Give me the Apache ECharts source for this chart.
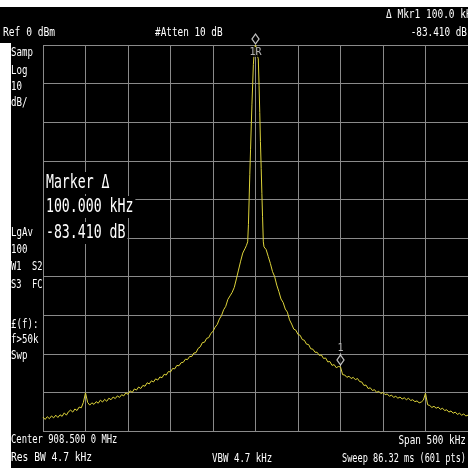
<!DOCTYPE html>
<html>
<head>
<meta charset="utf-8">
<script src="https://cdn.jsdelivr.net/npm/echarts@6/dist/echarts.min.js"></script>
<style>
  html, body { margin: 0; padding: 0; background: #fff; }
  .panel { position: absolute; background: #000; }
  #chart { position: absolute; left: 0; top: 0; width: 468px; height: 468px; }
</style>
</head>
<body>
<div class="panel" style="left:0;top:7px;width:468px;height:36px"></div>
<div class="panel" style="left:11px;top:42px;width:457px;height:426px"></div>
<div id="chart"></div>
<script>
// sweep: center 908.5 MHz, span 500 kHz -> offsets in kHz, levels in dBm
const sweepStartKHz = -250
const sweepStepKHz = 2.5

// lower skirt, -250 .. -12.5 kHz
const lowerSkirtDbm = [
  -96.4, -97.0, -96.3, -96.8, -96.1, -96.6, -95.9, -96.5, -95.8, -96.2,
  -95.3, -95.9, -95.0, -94.6, -95.1, -94.3, -94.7, -93.8, -94.0, -92.6,
  -90.1, -92.6, -93.3, -92.7, -93.1, -92.4, -92.8, -92.0, -92.5, -91.8,
  -92.3, -91.5, -91.9, -91.2, -91.6, -90.9, -91.3, -90.6, -90.9, -90.1,
  -90.5, -89.6, -90.0, -89.1, -89.4, -88.6, -89.0, -88.2, -88.4, -87.5,
  -87.8, -87.0, -87.3, -86.5, -86.8, -86.0, -86.2, -85.3, -85.5, -84.6,
  -84.7, -83.8, -83.9, -83.0, -83.1, -82.3, -82.2, -81.4, -81.5, -80.7,
  -80.7, -79.8, -79.7, -78.6, -78.2, -77.1, -77.0, -76.0, -75.8, -74.7,
  -74.2, -73.1, -72.4, -71.0, -70.1, -68.6, -67.7, -65.9, -65.0, -64.1,
  -62.8, -60.6, -58.3, -56.0, -53.9, -52.8
]

// carrier, read point by point
const peakOffsetKHz = [-10.8, -9.2, -8.3, -7.5, -6.7, -5.8, -5.0, -4.2, -3.3, -2.5, -1.7, -0.8, 0,
  0.8, 1.7, 2.5, 3.3, 4.2, 5.0, 5.8, 6.7, 7.5, 8.3, 9.2, 10.0]
const peakDbm = [-52.0, -51.0, -46.5, -40.0, -33.5, -27.0, -21.0, -15.5, -10.0, -5.0, -2.4, -0.8, 0.0,
  -0.6, -1.8, -3.0, -3.6, -10.5, -17.5, -25.0, -32.0, -38.5, -44.5, -51.0, -52.3]

// upper skirt, 12.5 .. 250 kHz
const upperSkirtStartKHz = 12.5
const upperSkirtDbm = [
  -53.0, -54.8, -56.6, -58.7, -60.0, -62.2, -63.9, -65.8, -66.7, -68.4,
  -69.2, -71.2, -72.3, -73.6, -73.9, -75.0, -75.2, -76.3, -76.5, -77.5,
  -77.6, -78.7, -78.8, -79.6, -79.6, -80.4, -80.3, -81.2, -81.1, -82.1,
  -82.0, -83.0, -82.8, -83.6, -83.3, -83.4, -85.4, -85.5, -86.1, -85.8,
  -86.4, -86.1, -86.7, -86.4, -87.2, -87.3, -88.2, -88.1, -89.0, -88.8,
  -89.5, -89.3, -90.0, -89.7, -90.3, -90.0, -90.6, -90.4, -91.0, -90.7,
  -91.3, -91.0, -91.5, -91.2, -91.7, -91.4, -91.9, -91.5, -92.1, -91.9,
  -92.4, -92.2, -92.7, -92.5, -92.0, -90.2, -93.2, -93.4, -93.9, -93.6,
  -94.1, -93.8, -94.4, -94.1, -94.7, -94.5, -95.1, -94.8, -95.4, -95.1,
  -95.7, -95.4, -95.9, -95.6, -96.1, -95.9
]

// markers: 1R on the carrier, 1 at +100 kHz
const markerNames = ['1R', '1']
const markerOffsetKHz = [0, 100]
const markerDbm = [0, -83.41]

const traceData = []
lowerSkirtDbm.forEach((v, i) => traceData.push([sweepStartKHz + i * sweepStepKHz, v]))
peakDbm.forEach((v, i) => traceData.push([peakOffsetKHz[i], v]))
upperSkirtDbm.forEach((v, i) => traceData.push([upperSkirtStartKHz + i * sweepStepKHz, v]))

const gridColor = '#8a8a8a'
const textColor = '#ffffff'
const smallFont = '13px "DejaVu Sans Mono", "Liberation Mono", monospace'
const bigFont = '20px "DejaVu Sans Mono", "Liberation Mono", monospace'

// instrument annotation text (narrow screen font -> squeeze horizontally)
const txt = (text, x, y, align, sx) => ({
  type: 'text', x, y, scaleX: sx || 0.7, silent: true, z: 10,
  style: { text, fill: textColor, font: smallFont, textAlign: align || 'left', textVerticalAlign: 'middle' }
})
const bigTxt = (text, x, y) => ({
  type: 'text', x, y, scaleX: 0.66, silent: true, z: 10,
  style: { text, fill: '#ffffff', font: bigFont, textAlign: 'left', textVerticalAlign: 'middle',
    backgroundColor: '#000', padding: [1, 3, 1, 3] }
})

const chart = echarts.init(document.getElementById('chart'))

const option = {
  animation: false,
  backgroundColor: 'transparent',
  grid: { left: 43, top: 45, width: 430, height: 386, show: false },
  xAxis: {
    type: 'value', min: -250, max: 250, interval: 50,
    axisLine: { show: false }, axisTick: { show: false }, axisLabel: { show: false },
    splitLine: { show: true, lineStyle: { color: gridColor, width: 1 } }
  },
  yAxis: {
    type: 'value', min: -100, max: 0, interval: 10,
    axisLine: { show: false }, axisTick: { show: false }, axisLabel: { show: false },
    splitLine: { show: true, lineStyle: { color: gridColor, width: 1 } }
  },
  series: [
    {
      name: 'trace',
      type: 'line',
      data: traceData,
      showSymbol: false,
      z: 3,
      lineStyle: { color: '#ddd33a', width: 1 }
    },
    {
      name: 'markers',
      type: 'scatter',
      clip: false,
      z: 5,
      symbol: 'diamond',
      symbolSize: [7, 10],
      itemStyle: { color: '#000', borderColor: '#f0f0f0', borderWidth: 1.3 },
      data: markerOffsetKHz.map((f, i) => ({
        value: [f, markerDbm[i]],
        symbolOffset: [0, i === 0 ? -6 : -7],
        label: {
          show: true,
          position: 'inside',
          offset: [0, i === 0 ? 13 : -12],
          formatter: markerNames[i],
          color: '#e0e0e0',
          fontFamily: '"DejaVu Sans Mono", monospace',
          fontSize: 10,
          backgroundColor: '#000',
          padding: [0, 1]
        }
      }))
    }
  ],
  graphic: [
    txt('Ref 0 dBm', 3, 33, 'left', 0.74),
    txt('#Atten 10 dB', 155, 33, 'left', 0.72),
    txt('\u0394 Mkr1 100.0 kHz', 386, 15, 'left', 0.73),
    txt('-83.410 dB', 467, 33, 'right', 0.72),
    txt('Samp', 11, 53),
    txt('Log', 11, 71),
    txt('10', 11, 87),
    txt('dB/', 11, 103),
    txt('LgAv', 11, 233),
    txt('100', 11, 250),
    txt('W1  S2', 11, 267, 'left', 0.67),
    txt('S3  FC', 11, 285, 'left', 0.67),
    txt('\u00a3(f):', 11, 325),
    txt('f>50k', 11, 340),
    txt('Swp', 11, 356),
    txt('Center 908.500 0 MHz', 11, 440, 'left', 0.68),
    txt('Res BW 4.7 kHz', 11, 458, 'left', 0.74),
    txt('VBW 4.7 kHz', 212, 459),
    txt('Span 500 kHz', 466, 441, 'right', 0.72),
    txt('Sweep 86.32 ms (601 pts)', 466, 459, 'right', 0.66),
    bigTxt('Marker \u0394', 44, 183),
    bigTxt('100.000 kHz', 44, 207),
    bigTxt('-83.410 dB', 44, 233)
  ]
}

chart.setOption(option)
</script>
</body>
</html>
